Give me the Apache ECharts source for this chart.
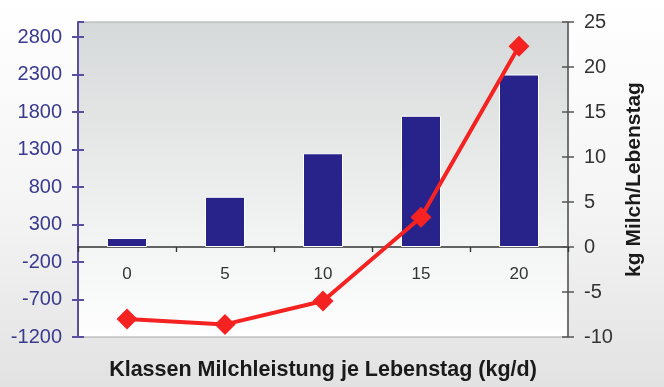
<!DOCTYPE html>
<html>
<head>
<meta charset="utf-8">
<script src="https://cdn.jsdelivr.net/npm/echarts@6/dist/echarts.min.js"></script>
<style>
  html, body { margin: 0; padding: 0; }
  body { background: linear-gradient(#ffffff 0%, #f4f4f4 55%, #e2e2e2 100%); }
  #chart { width: 664px; height: 387px; }
</style>
</head>
<body>
<div id="chart"></div>
<script>
// Klassen Milchleistung je Lebenstag
const categories = ['0', '5', '10', '15', '20']
const barValues = [120, 670, 1250, 1750, 2300]
const lineValues = [-8.0, -8.6, -6.0, 3.3, 22.3]

const leftMin = -1200
const leftMax = 3000
const rightMin = -10
const rightMax = 25

const chart = echarts.init(document.getElementById('chart'))

const font = 'Liberation Sans, Arial, sans-serif'

chart.setOption({
  animation: false,
  grid: {
    left: 78,
    right: 96,
    top: 22,
    bottom: 50,
    containLabel: false,
    outerBoundsMode: 'none',
    show: true,
    borderColor: '#a8a8a8',
    borderWidth: 1,
    backgroundColor: new echarts.graphic.LinearGradient(0, 0, 0, 1, [
      { offset: 0, color: '#d6d9d9' },
      { offset: 0.65, color: '#f1f2f2' },
      { offset: 1, color: '#fefefe' }
    ])
  },
  xAxis: [
    {
      type: 'category',
      data: categories,
      name: 'Klassen Milchleistung je Lebenstag (kg/d)',
      nameLocation: 'middle',
      nameGap: 22,
      nameTextStyle: { color: '#1a1a1a', fontSize: 21.5, fontWeight: 'bold', fontFamily: font },
      axisLine: { onZero: true, lineStyle: { color: '#333', width: 1.5 } },
      axisTick: { show: true, length: 5, lineStyle: { color: '#333', width: 1.2 } },
      // labels stay at the grid bottom, so pull them up under the zero line
      axisLabel: { color: '#333', fontSize: 17, margin: -71, fontFamily: font },
      splitLine: { show: false }
    },
    {
      // second copy of the axis only to draw the upper half of the crossing ticks
      type: 'category',
      data: categories,
      axisLine: { show: false, onZero: true, onZeroAxisIndex: 0 },
      axisTick: { show: true, inside: true, length: 5, lineStyle: { color: '#333', width: 1.2 } },
      axisLabel: { show: false },
      splitLine: { show: false }
    }
  ],
  yAxis: [
    {
      type: 'value',
      min: leftMin,
      max: leftMax,
      interval: 500,
      axisLine: { show: true, lineStyle: { color: '#5a4ea0', width: 2 } },
      axisTick: { show: true, length: 6, lineStyle: { color: '#5a4ea0', width: 2 } },
      axisLabel: {
        color: '#3a3a8e', fontSize: 20, margin: 16, fontFamily: font, showMaxLabel: false,
        formatter: (v) => String(v)
      },
      splitLine: { show: false }
    },
    {
      type: 'value',
      position: 'right',
      min: rightMin,
      max: rightMax,
      interval: 5,
      name: 'kg Milch/Lebenstag',
      nameLocation: 'middle',
      nameRotate: 90,
      nameGap: 55,
      nameTextStyle: { color: '#1a1a1a', fontSize: 21, fontWeight: 'bold', fontFamily: font },
      axisLine: { show: true, lineStyle: { color: '#555', width: 1.5 } },
      axisTick: { show: true, length: 6, lineStyle: { color: '#555', width: 1.5 } },
      axisLabel: { color: '#333', fontSize: 20, margin: 16, fontFamily: font, formatter: (v) => String(v) },
      splitLine: { show: false }
    },
    {
      // inner half of the left ticks
      type: 'value',
      position: 'left',
      min: leftMin,
      max: leftMax,
      interval: 500,
      axisLine: { show: false },
      axisTick: { show: true, inside: true, length: 6, lineStyle: { color: '#5a4ea0', width: 2 } },
      axisLabel: { show: false },
      splitLine: { show: false }
    },
    {
      // inner half of the right ticks
      type: 'value',
      position: 'right',
      min: rightMin,
      max: rightMax,
      interval: 5,
      axisLine: { show: false },
      axisTick: { show: true, inside: true, length: 6, lineStyle: { color: '#555', width: 1.5 } },
      axisLabel: { show: false },
      splitLine: { show: false }
    }
  ],
  series: [
    {
      type: 'bar',
      data: barValues,
      yAxisIndex: 0,
      barWidth: 40,
      itemStyle: { color: '#28238a', borderColor: '#ffffff', borderWidth: 1 }
    },
    {
      type: 'line',
      data: lineValues,
      yAxisIndex: 1,
      symbol: 'diamond',
      symbolSize: 21,
      lineStyle: { color: '#f52222', width: 4 },
      itemStyle: { color: '#f52222' }
    }
  ]
})
</script>
</body>
</html>
